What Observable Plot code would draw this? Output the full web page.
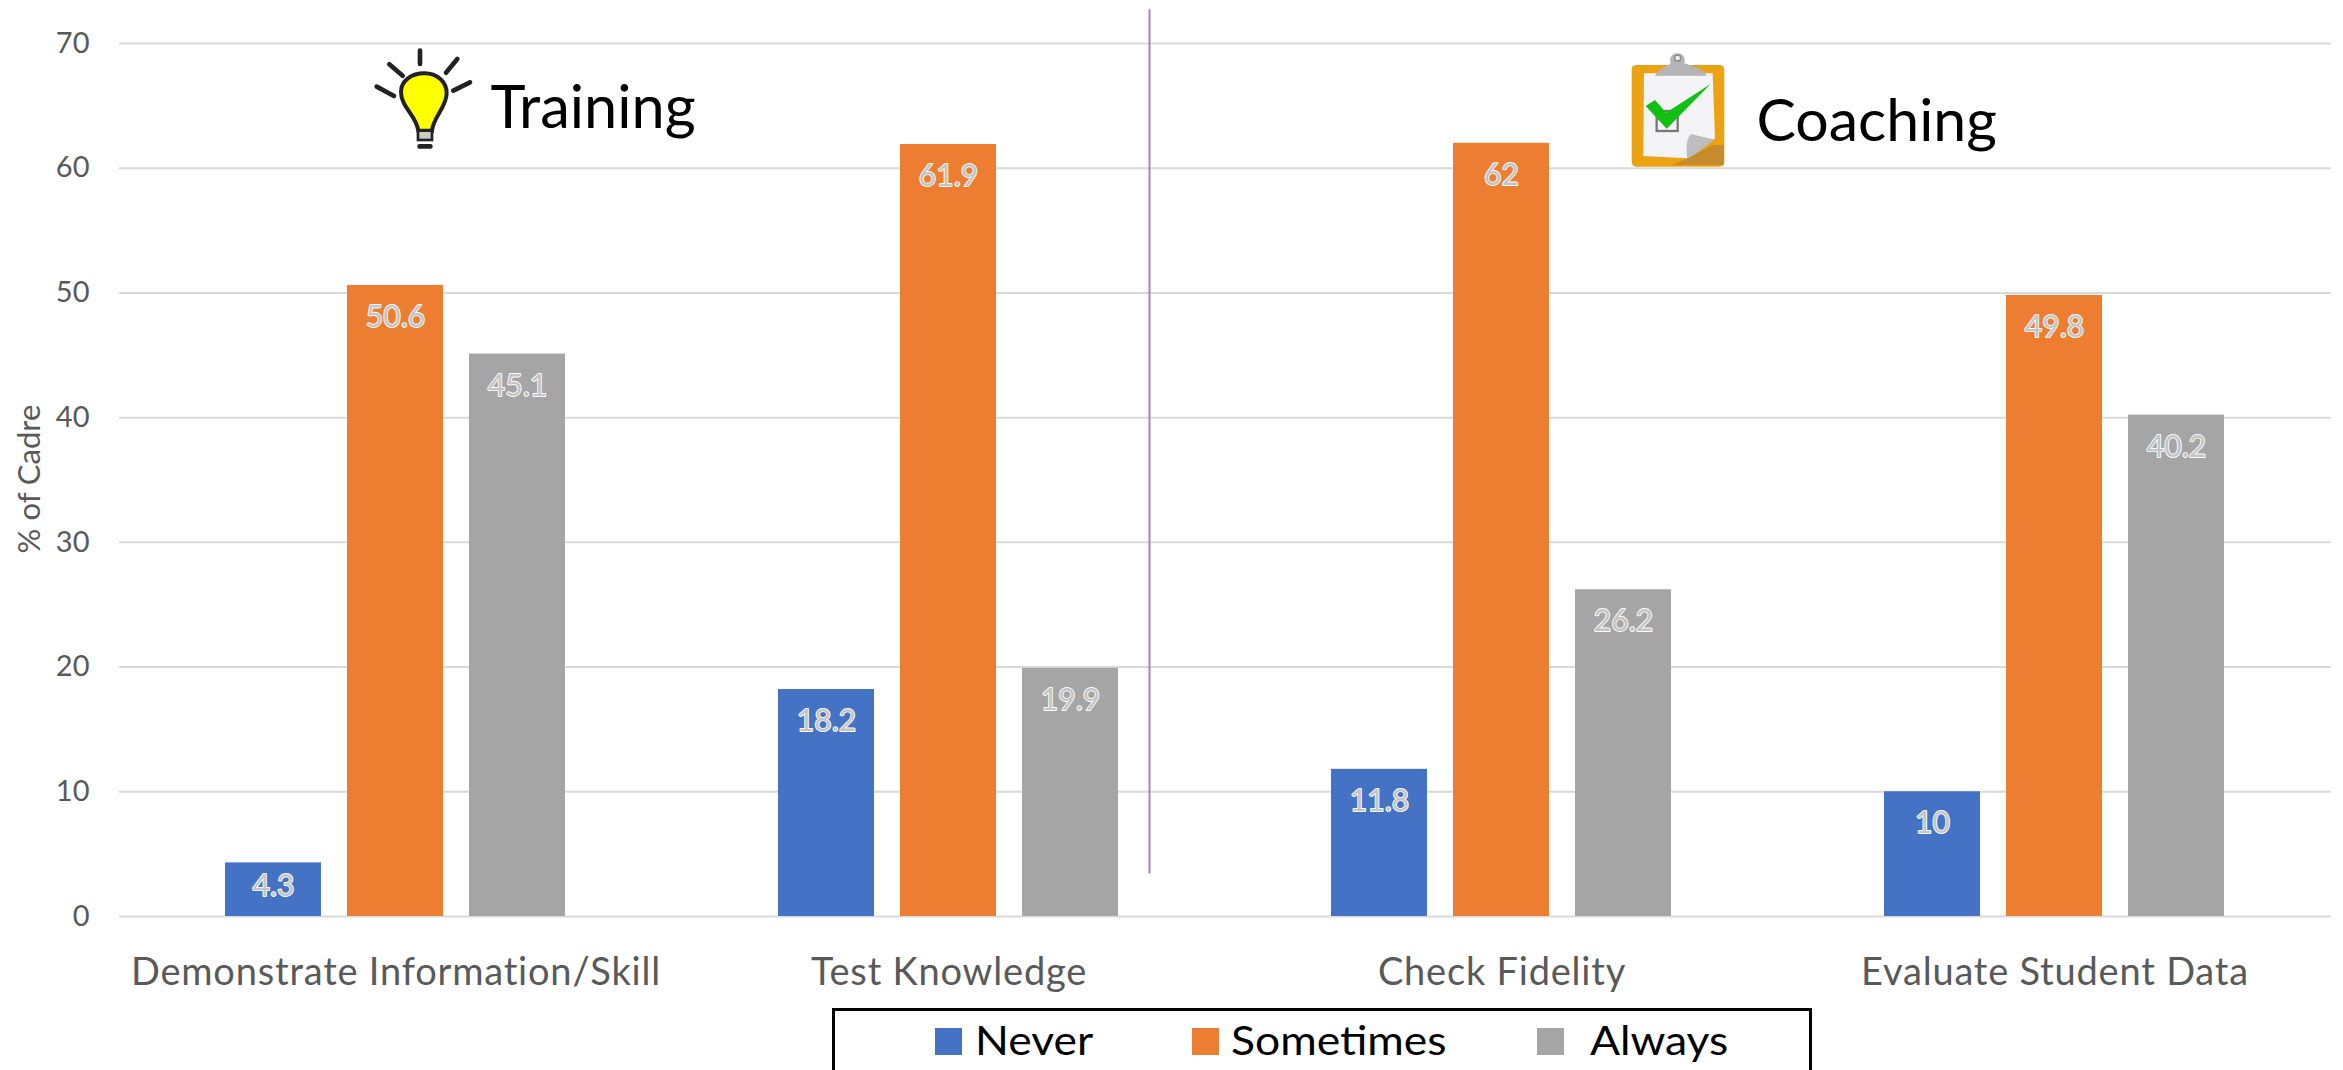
<!DOCTYPE html>
<html>
<head>
<meta charset="utf-8">
<script src="https://cdn.jsdelivr.net/npm/d3@7"></script>
<script src="https://cdn.jsdelivr.net/npm/@observablehq/plot@0.6"></script>
<style>
html,body{margin:0;padding:0;background:#fff;overflow:hidden;height:1070px}
#chart svg{display:block}
#legend{position:relative;height:65px;font-family:Lato,sans-serif}
#box{position:absolute;left:832px;top:3px;width:980px;height:70px;border:3px solid #000;box-sizing:border-box}
.sw{position:absolute;top:23px;width:27px;height:27px}
.lb{position:absolute;top:12px;font-size:40px;line-height:46px;color:#000;transform:scaleX(1.11);transform-origin:left center}
</style>
</head>
<body>
<div id="chart"></div>
<div id="legend"><div id="box"></div></div>
<script>
const activities = ["Demonstrate Information/Skill", "Test Knowledge", "Check Fidelity", "Evaluate Student Data"];
const responses = ["Never", "Sometimes", "Always"];
const colors = ["#4472C4", "#ED7D31", "#A5A5A5"];
const never = [4.3, 18.2, 11.8, 10];
const sometimes = [50.6, 61.9, 62, 49.8];
const always = [45.1, 19.9, 26.2, 40.2];
const yTicks = [0, 10, 20, 30, 40, 50, 60, 70];

const rows = activities.flatMap((a, i) => [
  {activity: a, response: "Never", value: never[i]},
  {activity: a, response: "Sometimes", value: sometimes[i]},
  {activity: a, response: "Always", value: always[i]}
]);

const font = "Lato, sans-serif";
const labelOpts = {fx: "activity", x: "response", y: "value", text: d => String(d.value), fontSize: 30,
  fill: "#c4c4c4", stroke: "#fff", strokeWidth: 1.8};
const plot = Plot.plot({
  width: 2343, height: 1005,
  marginLeft: 119, marginRight: 12, marginTop: 43, marginBottom: 89,
  style: {fontFamily: font, background: "#fff", color: "#595959", overflow: "visible"},
  x: {domain: responses, axis: null, paddingInner: 0.214, paddingOuter: 0.86, align: 0.4975},
  fx: {domain: activities, padding: 0, label: null},
  y: {domain: [0, 70], ticks: yTicks, label: null},
  color: {domain: responses, range: colors},
  marks: [
    Plot.gridY(yTicks, {stroke: "#D9D9D9", strokeOpacity: 1, strokeWidth: 2}),
    Plot.axisY(yTicks, {anchor: "left", tickSize: 0, tickPadding: 30, fontSize: 29, fill: "#595959", label: null}),
    Plot.axisFx({anchor: "bottom", tickSize: 0, tickPadding: 42, fontSize: 38, fill: "#595959", label: null}),
    Plot.barY(rows, {fx: "activity", x: "response", y: "value", fill: "response"}),
    Plot.text(rows.filter(d => d.value >= 5), {...labelOpts, dy: 32}),
    Plot.text(rows.filter(d => d.value < 5), {...labelOpts, dy: 24}),
    Plot.ruleX(["Always"], {fx: () => "Test Knowledge", x: d => d, y1: 3.4, y2: 72.7, dx: 79, stroke: "#A880C0", strokeWidth: 2}),
    Plot.text(["Training"], {fx: () => activities[0], x: () => "Always", y: () => 63.2, text: d => d, dx: -27, textAnchor: "start", lineAnchor: "bottom", fontSize: 59.5, fill: "#000"}),
    Plot.text(["Coaching"], {fx: () => activities[2], x: () => "Always", y: () => 62.2, text: d => d, dx: 133, textAnchor: "start", lineAnchor: "bottom", fontSize: 59, fill: "#000"})
  ]
});
document.getElementById("chart").appendChild(plot);

const svg = d3.select(plot);
svg.selectAll('[aria-label="fx-axis tick label"] text, [aria-label="fx-axis tick label"]').attr("letter-spacing", 0.8);

// y-axis title
svg.append("text").text("% of Cadre")
  .attr("transform", "translate(40,479) rotate(-90)")
  .attr("text-anchor", "middle").attr("font-size", 31).attr("fill", "#595959").attr("font-family", font);

// light-bulb icon
const bulb = svg.append("g").attr("transform", "translate(340,20) scale(0.3333)");
[[240,92,240,132],[148,133,188,167],[352,117,318,158],[110,200,162,228],[390,187,340,212]].forEach(l =>
  bulb.append("line").attr("x1", l[0]).attr("y1", l[1]).attr("x2", l[2]).attr("y2", l[3])
    .attr("stroke", "#222").attr("stroke-width", 14).attr("stroke-linecap", "round"));
bulb.append("path")
  .attr("d", "M235 332 C228 285 183 262 183 215 C183 182 215 160 253 160 C292 160 320 185 320 220 C320 262 280 290 276 332 Z")
  .attr("fill", "#FFFF00").attr("stroke", "#222").attr("stroke-width", 12);
bulb.append("rect").attr("x", 234).attr("y", 332).attr("width", 42).attr("height", 28).attr("fill", "#ccc").attr("stroke", "#222").attr("stroke-width", 8);
bulb.append("rect").attr("x", 232).attr("y", 372).attr("width", 46).attr("height", 14).attr("rx", 6).attr("fill", "#222");

// clipboard icon
const clip = svg.append("g").attr("transform", "translate(1600,30) scale(0.3333)");
clip.append("rect").attr("x", 95).attr("y", 105).attr("width", 278).attr("height", 305).attr("rx", 14).attr("fill", "#EBA314");
clip.append("path").attr("d", "M340 345 L372 345 L372 405 L220 405 Z").attr("fill", "#C68B2C");
clip.append("path").attr("d", "M132 130 L338 130 L345 325 L262 385 L130 378 Z").attr("fill", "#F4F3F5");
clip.append("path").attr("d", "M262 385 C255 345 265 315 275 312 C300 320 330 325 345 328 C320 345 290 375 262 385 Z").attr("fill", "#BDBDBD");
clip.append("path").attr("d", "M165 137 C175 115 205 108 212 100 C200 60 265 60 253 100 C275 108 310 115 320 137 Z").attr("fill", "#B5B5B5");
clip.append("circle").attr("cx", 233).attr("cy", 84).attr("r", 9).attr("fill", "#eee").attr("stroke", "#888").attr("stroke-width", 4);
clip.append("rect").attr("x", 170).attr("y", 243).attr("width", 63).attr("height", 60).attr("fill", "none").attr("stroke", "#777").attr("stroke-width", 7);
clip.append("path").attr("d", "M137 228 L165 210 L198 248 L332 162 L200 296 Z").attr("fill", "#11C011");

// legend
const legend = document.getElementById("legend");
const swLeft = [935, 1192, 1537];
const lbLeft = [975, 1231, 1590];
responses.forEach((r, i) => {
  const s = document.createElement("div");
  s.className = "sw"; s.style.left = swLeft[i] + "px"; s.style.background = colors[i];
  legend.appendChild(s);
  const t = document.createElement("div");
  t.className = "lb"; t.style.left = lbLeft[i] + "px"; t.textContent = r;
  legend.appendChild(t);
});
</script>
</body>
</html>
